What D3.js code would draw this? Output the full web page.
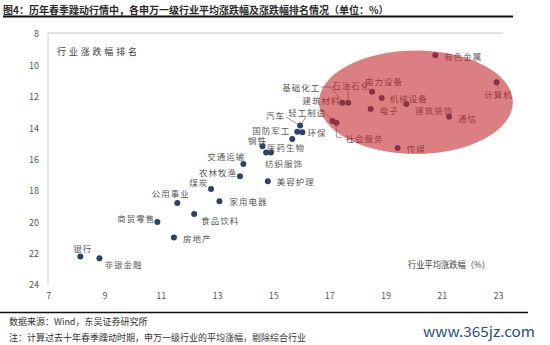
<!DOCTYPE html>
<html><head><meta charset="utf-8">
<script src="https://cdnjs.cloudflare.com/ajax/libs/d3/7.8.5/d3.min.js"></script>
<style>
html,body{margin:0;padding:0;background:#fff;}
svg{display:block;}
text{font-family:"Noto Sans CJK SC","Noto Sans",sans-serif;}
</style></head>
<body>
<script>
// ---- data ----
const industries = ["有色金属","计算机","电力设备","机械设备","建筑装饰","电子","通信","传媒","基础化工","石油石化","建筑材料","社会服务",
  "汽车","轻工制造","环保","国防军工","钢铁","医药生物","纺织服饰","交通运输","农林牧渔","美容护理","煤炭","家用电器","公用事业","食品饮料","商贸零售","房地产","银行","非银金融"];
const avgChange = [20.77,22.95,18.52,18.86,19.74,18.47,21.26,19.43,17.46,17.67,17.11,17.25,
  15.96,15.86,16.04,15.68,14.62,14.75,14.92,13.94,13.82,14.81,12.79,13.09,11.59,12.19,10.88,11.47,8.14,8.82];
const rankAvg = [9.36,11.08,11.68,12.08,12.46,12.78,13.27,15.27,12.38,12.38,13.54,13.65,
  13.84,14.23,14.27,14.69,15.16,15.56,15.56,16.29,17.07,17.39,17.88,18.66,18.77,19.47,19.98,20.98,22.19,22.30];
const xTicks = [7,9,11,13,15,17,19,21,23];
const yTicks = [8,10,12,14,16,18,20,22,24];
const highlight = {cx:20.08, cy:12.35, rx:3.45, ry:3.3}; // ellipse in data units

// ---- layout (label offsets in px) ----
const labelPos = {
 "有色金属":[9,1,"start"],"计算机":[2,12,"middle"],"电力设备":[-7,-10.7,"start"],"机械设备":[8,0,"start"],
 "建筑装饰":[9,6,"start"],"电子":[9,1,"start"],"通信":[9,1,"start"],"传媒":[9,0,"start"],
 "基础化工":[-22,-16,"end"],"石油石化":[-16,-17.7,"start"],"建筑材料":[-30,-20.5,"start"],"社会服务":[9,15.6,"start"],
 "汽车":[-15,-10.7,"end"],"轻工制造":[-9,-19.5,"start"],"环保":[5,0,"start"],"国防军工":[-2,-9.3,"end"],
 "钢铁":[-5,-6.1,"middle"],"医药生物":[1,-6,"start"],"纺织服饰":[-6,10.6,"start"],"交通运输":[2,-8.3,"end"],
 "农林牧渔":[-3,-4.3,"end"],"美容护理":[9,0,"start"],"煤炭":[-2.7,-6.8,"end"],"家用电器":[10,0,"start"],
 "公用事业":[-6.5,-10,"middle"],"食品饮料":[7,6,"start"],"商贸零售":[-2,-4,"end"],"房地产":[9,0,"start"],
 "银行":[2.5,-8.7,"middle"],"非银金融":[5,6,"start"]
};

const W=550,H=345;
const svg=d3.select("body").append("svg").attr("width",W).attr("height",H);
const x=d3.scaleLinear().domain([7,23]).range([48.3,498]);
const y=d3.scaleLinear().domain([8,24]).range([34,285]);

// title
svg.append("text").attr("x",3).attr("y",9).attr("dominant-baseline","central")
  .attr("font-size",10).attr("font-weight","bold").attr("fill","#2b2b2b")
  .text("图4：历年春季躁动行情中，各申万一级行业平均涨跌幅及涨跌幅排名情况（单位：%）");
svg.append("line").attr("x1",3).attr("x2",513).attr("y1",16.5).attr("y2",16.5).attr("stroke","#111").attr("stroke-width",1.8);

// axes frame lines
svg.append("line").attr("x1",48).attr("x2",48).attr("y1",33).attr("y2",285).attr("stroke","#d9d9d9").attr("stroke-width",1.3);
svg.append("line").attr("x1",48).attr("x2",503).attr("y1",33).attr("y2",33).attr("stroke","#d9d9d9").attr("stroke-width",1.3);

const ya=svg.append("g").attr("transform","translate(48,0)")
  .call(d3.axisLeft(y).tickValues(yTicks).tickSize(0).tickPadding(9).tickFormat(d3.format("d")));
const xa=svg.append("g").attr("transform","translate(0,285)")
  .call(d3.axisBottom(x).tickValues(xTicks).tickSize(0).tickPadding(8).tickFormat(d3.format("d")));
[ya,xa].forEach(g=>{g.select(".domain").remove();
  g.selectAll("text").attr("font-family","'Liberation Serif',serif").attr("font-size",9).attr("fill","#595959");});

// axis titles
svg.append("text").attr("x",57).attr("y",51).attr("dominant-baseline","central")
  .attr("font-size",9).attr("fill","#404040").attr("textLength",80).attr("lengthAdjust","spacing").text("行业涨跌幅排名");
svg.append("text").attr("x",408).attr("y",264).attr("dominant-baseline","central")
  .attr("font-size",8.6).attr("fill","#404040").attr("textLength",82).attr("lengthAdjust","spacingAndGlyphs").text("行业平均涨跌幅（%）");

// leader lines
const leaders=[
 [[321,87],[331,87],[341,100.5]],
 [[348,91],[348,99.5]],
 [[322,110],[331,119]],
 [[336,126],[336.5,137.3],[342,137.3]],
 [[286,117],[297.5,124]],
 [[306,117],[301.5,124]],
 [[497,85],[499,89]]
];
svg.append("g").selectAll("polyline").data(leaders).join("polyline")
  .attr("points",d=>d.map(p=>p.join(",")).join(" "))
  .attr("fill","none").attr("stroke","#7f7f7f").attr("stroke-width",0.8);

const data=industries.map((n,i)=>({n,x:avgChange[i],y:rankAvg[i]}));
svg.append("g").selectAll("circle").data(data).join("circle")
  .attr("cx",d=>x(d.x)).attr("cy",d=>y(d.y)).attr("r",3).attr("fill","#2f4266");
svg.append("g").selectAll("text").data(data).join("text")
  .attr("x",d=>x(d.x)+labelPos[d.n][0]).attr("y",d=>y(d.y)+labelPos[d.n][1])
  .attr("text-anchor",d=>labelPos[d.n][2]).attr("dominant-baseline","central")
  .attr("font-size",8.5).attr("letter-spacing",1).attr("fill","#595959").text(d=>d.n);

// highlight ellipse overlay
svg.append("ellipse").attr("cx",x(highlight.cx)).attr("cy",y(highlight.cy))
  .attr("rx",x(highlight.cx+highlight.rx)-x(highlight.cx)).attr("ry",y(highlight.cy+highlight.ry)-y(highlight.cy))
  .attr("fill","#c42a2e").attr("fill-opacity",0.6);

// footer
svg.append("line").attr("x1",0).attr("x2",528).attr("y1",312.5).attr("y2",312.5).attr("stroke","#111").attr("stroke-width",1.5);
svg.append("text").attr("x",9).attr("y",321.5).attr("dominant-baseline","central").attr("font-size",9).attr("fill","#333")
  .text("数据来源：Wind，东吴证券研究所");
svg.append("text").attr("x",9).attr("y",337).attr("dominant-baseline","central").attr("font-size",9).attr("fill","#333")
  .text("注：计算过去十年春季躁动时期，申万一级行业的平均涨幅，剔除综合行业");
svg.append("text").attr("x",423).attr("y",331).attr("dominant-baseline","central").attr("font-family","'DejaVu Sans',sans-serif")
  .attr("font-size",14).attr("fill","#1f4f86").attr("textLength",112).attr("lengthAdjust","spacingAndGlyphs").text("www.365jz.com");
</script>
</body></html>
